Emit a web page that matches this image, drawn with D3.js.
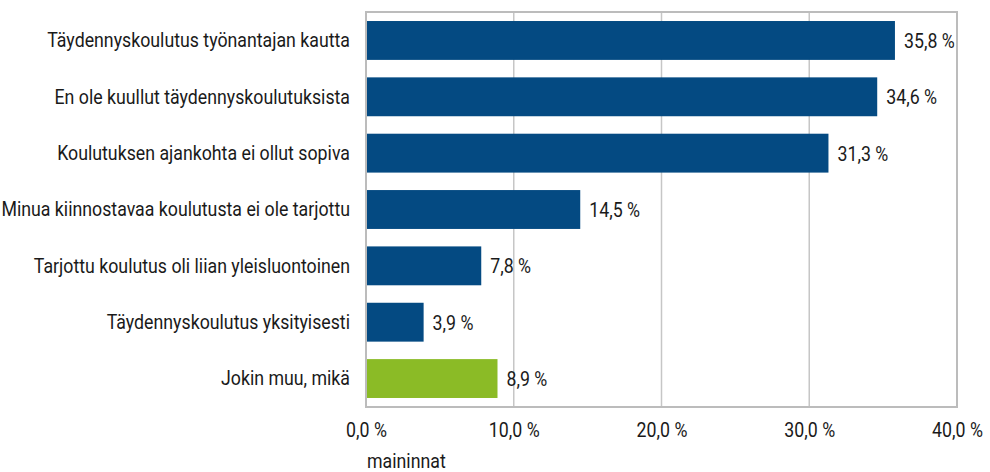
<!DOCTYPE html>
<html>
<head>
<meta charset="utf-8">
<script src="https://cdn.jsdelivr.net/npm/d3@7"></script>
<style>
  body { margin: 0; background: #fff; }
  text { font-family: Roboto, "Liberation Sans", sans-serif; font-size: 21px; fill: #1a1a1a; }
</style>
</head>
<body>
<svg id="chart"></svg>
<script>
const categories = [
  'Täydennyskoulutus työnantajan kautta',
  'En ole kuullut täydennyskoulutuksista',
  'Koulutuksen ajankohta ei ollut sopiva',
  'Minua kiinnostavaa koulutusta ei ole tarjottu',
  'Tarjottu koulutus oli liian yleisluontoinen',
  'Täydennyskoulutus yksityisesti',
  'Jokin muu, mikä'
];
const values = [35.8, 34.6, 31.3, 14.5, 7.8, 3.9, 8.9];
const barColors = ['#044a82', '#044a82', '#044a82', '#044a82', '#044a82', '#044a82', '#8bbb26'];
const ticks = [0, 10, 20, 30, 40];
const axisTitle = 'maininnat';

const WIDTH = 990, HEIGHT = 472;
const margin = {top: 12, right: 33, bottom: 65, left: 366};
const width = WIDTH - margin.left - margin.right,
  height = HEIGHT - margin.top - margin.bottom;
const SQUEEZE = 0.845; // no condensed font installed, so squeeze the text

const fmt = v => v.toFixed(1).replace('.', ',') + ' %';

// move x/y into a transform and scale the glyphs horizontally
function condense(sel) {
  sel.each(function () {
    const t = d3.select(this);
    const tx = +t.attr('x') || 0, ty = +t.attr('y') || 0;
    t.attr('x', 0).attr('y', 0)
      .attr('transform', `translate(${tx},${ty}) scale(${SQUEEZE},1)`);
  });
}

const svg = d3.select('#chart')
  .attr('width', WIDTH)
  .attr('height', HEIGHT)
  .append('g')
  .attr('transform', `translate(${margin.left},${margin.top})`);

const x = d3.scaleLinear().domain([0, 40]).range([0, width]);
const y = d3.scaleBand().domain(categories).range([0, height]).paddingInner(0.31).paddingOuter(0.16);

// gridlines
svg.selectAll('.grid')
  .data(ticks.slice(1, -1))
  .enter().append('line')
  .attr('x1', d => x(d)).attr('x2', d => x(d))
  .attr('y1', 0).attr('y2', height)
  .attr('stroke', '#c6c6c6')
  .attr('stroke-width', 1.5);

svg.append('rect')
  .attr('width', width).attr('height', height)
  .attr('fill', 'none')
  .attr('stroke', '#bcbcbc')
  .attr('stroke-width', 2);

svg.selectAll('.bar')
  .data(values)
  .enter().append('rect')
  .attr('x', 1)
  .attr('y', (d, i) => y(categories[i]))
  .attr('width', d => x(d) - 1)
  .attr('height', y.bandwidth())
  .attr('fill', (d, i) => barColors[i]);

svg.selectAll('.val')
  .data(values)
  .enter().append('text')
  .attr('x', d => x(d) + 9)
  .attr('y', (d, i) => y(categories[i]) + y.bandwidth() / 2)
  .attr('dy', '0.35em')
  .text(d => fmt(d))
  .call(condense);

const yAxis = d3.axisLeft(y).tickSize(0).tickPadding(16);
svg.append('g')
  .call(yAxis)
  .attr('font-family', null).attr('font-size', null)
  .call(g => g.select('.domain').remove())
  .selectAll('text')
  .call(condense);

const xAxis = d3.axisBottom(x).tickValues(ticks).tickSize(0).tickPadding(15).tickFormat(fmt);
svg.append('g')
  .attr('transform', `translate(0,${height})`)
  .call(xAxis)
  .attr('font-family', null).attr('font-size', null)
  .call(g => g.select('.domain').remove())
  .selectAll('text')
  .call(condense);

svg.append('text')
  .attr('x', 1)
  .attr('y', height + 61)
  .text(axisTitle)
  .call(condense);
</script>
</body>
</html>
